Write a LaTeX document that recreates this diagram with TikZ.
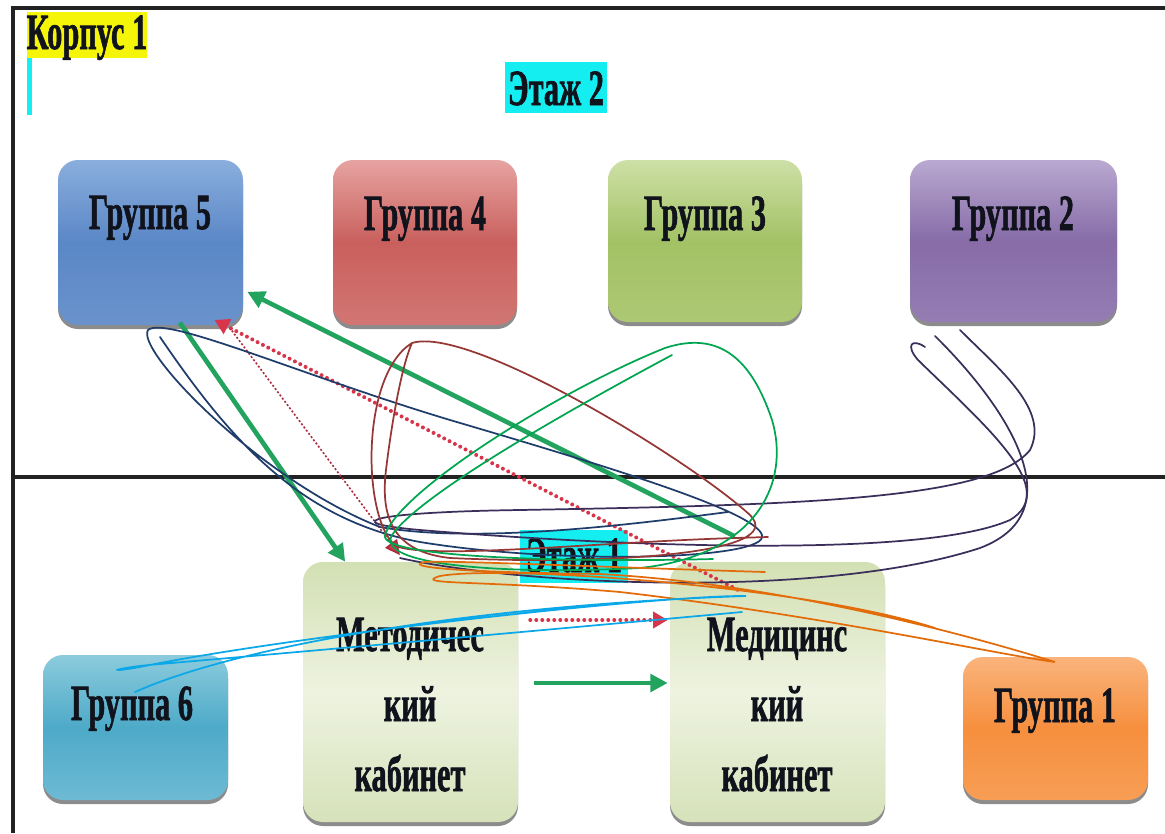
\documentclass[tikz,border=0pt]{standalone}
\usepackage{fontspec}
\setmainfont{Liberation Serif}[BoldFeatures={FakeBold=1.5}]
\usetikzlibrary{fit,shadows,arrows.meta}
\definecolor{frame}{HTML}{222222}
\definecolor{g5t}{HTML}{8AAEDD}\definecolor{g5m}{HTML}{5A87C6}\definecolor{g5b}{HTML}{6A93CC}
\definecolor{g4t}{HTML}{E6A3A1}\definecolor{g4m}{HTML}{C9605D}\definecolor{g4b}{HTML}{D27673}
\definecolor{g3t}{HTML}{CDE0A6}\definecolor{g3m}{HTML}{A3C265}\definecolor{g3b}{HTML}{ADC873}
\definecolor{g2t}{HTML}{B9A9D0}\definecolor{g2m}{HTML}{876CA8}\definecolor{g2b}{HTML}{957DB3}
\definecolor{g6t}{HTML}{8CCBDD}\definecolor{g6m}{HTML}{4DAAC8}\definecolor{g6b}{HTML}{6EBAD4}
\definecolor{g1t}{HTML}{FAB47C}\definecolor{g1m}{HTML}{F68F3E}\definecolor{g1b}{HTML}{F79E55}
\definecolor{kt}{HTML}{D3E0B4}\definecolor{km}{HTML}{EEF3E0}\definecolor{kb}{HTML}{D6E2BA}
\definecolor{arrg}{HTML}{22A35E}
\definecolor{arrr}{HTML}{D8344A}
\definecolor{navyc}{HTML}{1F3D6B}
\definecolor{purpc}{HTML}{3A2E5A}
\definecolor{redc}{HTML}{953735}
\definecolor{greenc}{HTML}{00A550}
\definecolor{orangec}{HTML}{E36C0A}
\definecolor{bluec}{HTML}{0AA8E8}
\definecolor{lblcyan}{HTML}{14EEF0}
\definecolor{lblyellow}{HTML}{F5F50A}
\definecolor{txtc}{HTML}{10121C}
\newcommand\sq[1]{\scalebox{0.6}[1]{#1}}
\begin{document}
\begin{tikzpicture}[x=0.75pt,y=-0.75pt,
  box/.style={rectangle, rounded corners=15pt, inner sep=0pt, draw=none,
    drop shadow={shadow xshift=0pt,shadow yshift=-3pt,fill=black,opacity=0.45}},
  txt/.style={font=\fontsize{38}{44}\selectfont\bfseries, inner sep=0pt, anchor=base, text=txtc},
  garrow/.style={draw=arrg, line width=3.5pt, -{Triangle[length=13pt,width=13pt]}},
  rarrow/.style={draw=arrr, line width=3pt, line cap=round, dash pattern=on 0pt off 4.5pt, -{Triangle[length=11pt,width=12pt]}},
  rthin/.style={draw=arrr!80!black, line width=1.2pt, dash pattern=on 1.5pt off 1.5pt, -{Triangle[length=11pt,width=11pt,fill=arrr]}},
  curve/.style={line width=1.3pt, line cap=round}
]
\useasboundingbox (0,0) rectangle (1165,833);
\fill[white] (0,0) rectangle (1165,833);
% frame
\draw[frame, line width=2.4pt] (1165,8) -- (13,8) -- (13,833);
\draw[frame, line width=2.4pt] (13,477) -- (1165,477);
% labels
\fill[lblyellow] (27,12) rectangle (147,58);
\node[txt] (k1) at (87,49) {\sq{Корпус 1}};
\fill[lblcyan] (27,58) rectangle (32,115);
\fill[lblcyan] (505,62) rectangle (607,113);
\node[txt] (e2) at (556,105) {\sq{Этаж 2}};
% top row boxes
\node[box, top color=g5t, bottom color=g5b, middle color=g5m, fit={(58,160) (243,325)}] (g5) {};
\node[box, top color=g4t, bottom color=g4b, middle color=g4m, fit={(333,160) (517,325)}] (g4) {};
\node[box, top color=g3t, bottom color=g3b, middle color=g3m, fit={(608,160) (802,322)}] (g3) {};
\node[box, top color=g2t, bottom color=g2b, middle color=g2m, fit={(910,160) (1117,322)}] (g2) {};
\node[txt] (t5) at (150,229) {\sq{Группа 5}};
\node[txt] (t4) at (425,230) {\sq{Группа 4}};
\node[txt] (t3) at (705,230) {\sq{Группа 3}};
\node[txt] (t2) at (1013,230) {\sq{Группа 2}};
% bottom row boxes
\node[box, top color=g6t, bottom color=g6b, middle color=g6m, fit={(43,655) (228,800)}] (g6) {};
\node[box, top color=kt, bottom color=kb, middle color=km, fit={(303,562) (518,822)}] (met) {};
\node[box, top color=kt, bottom color=kb, middle color=km, fit={(670,562) (885,822)}] (med) {};
\node[box, top color=g1t, bottom color=g1b, middle color=g1m, fit={(963,657) (1148,800)}] (g1) {};
\node[txt] (t6) at (132,720) {\sq{Группа 6}};
\node[txt] (t1) at (1055,722) {\sq{Группа 1}};
\node[txt] (m1) at (410,651) {\sq{Методичес}};
\node[txt] (m2) at (410,721) {\sq{кий}};
\node[txt] (m3) at (410,791) {\sq{кабинет}};
\node[txt] (d1) at (777,651) {\sq{Медицинс}};
\node[txt] (d2) at (777,721) {\sq{кий}};
\node[txt] (d3) at (777,791) {\sq{кабинет}};
% etazh 1 label
\fill[lblcyan] (520,530) rectangle (628,583);
\node[txt] (e1) at (574,572) {\sq{Этаж 1}};
% arrows
\draw[garrow] ([xshift=-32pt,yshift=19pt]med.north) -- ([xshift=3pt,yshift=-37pt]g5.east);
\draw[garrow] ([xshift=22pt,yshift=2pt]g5.south) -- ([xshift=-49pt,yshift=0pt]met.north);
\draw[rarrow] ([xshift=-30pt,yshift=-21pt]med.north) -- ([xshift=48pt,yshift=4pt]g5.south);
\draw[rthin] ([xshift=61pt,yshift=-4pt]g5.south) -- ([xshift=-8pt,yshift=5pt]met.north);
\draw[rarrow] ([xshift=9pt,yshift=54pt]met.east) -- ([xshift=-1.5pt,yshift=54pt]med.west);
\draw[garrow] ([xshift=12pt,yshift=6.75pt]met.east) -- ([xshift=-1.5pt,yshift=6.75pt]med.west);
% freehand curves
\draw[curve, navyc] (160,337) .. controls (230,440) and (300,520) .. (420,542) .. controls (560,565) and (770,560) .. (762,535) .. controls (755,512) and (620,470) .. (450,420) .. controls (300,375) and (165,315) .. (148,330) .. controls (135,350) and (260,480) .. (380,527) .. controls (480,545) and (650,522) .. (728,512);
\draw[curve, purpc] (925,347) .. controls (912,338) and (905,345) .. (918,360) .. controls (990,430) and (1060,490) .. (1010,520) .. controls (920,560) and (600,545) .. (420,530) .. controls (330,522) and (380,512) .. (520,510) .. controls (800,505) and (990,500) .. (1030,450) .. controls (1050,410) and (1000,370) .. (960,330);
\draw[curve, purpc] (935,336) .. controls (1000,400) and (1080,510) .. (980,548) .. controls (820,600) and (520,585) .. (400,558);
\draw[curve, redc] (768,537) -- (735,538) .. controls (600,542) and (430,560) .. (396,546) .. controls (362,520) and (360,375) .. (412,343) .. controls (470,325) and (690,460) .. (750,515) .. controls (790,555) and (600,565) .. (450,558) .. controls (395,552) and (380,520) .. (386,470) .. controls (392,420) and (402,365) .. (412,343);
\draw[curve, greenc] (672,355) .. controls (560,415) and (420,495) .. (392,535) .. controls (375,565) and (500,575) .. (640,568) .. controls (760,555) and (790,480) .. (772,420) .. controls (752,360) and (720,330) .. (665,348) .. controls (560,390) and (400,490) .. (385,535) .. controls (378,560) and (600,562) .. (713,559);
\draw[curve, orangec] (765,572) .. controls (600,567) and (440,560) .. (425,562) .. controls (405,566) and (440,572) .. (600,574) .. controls (800,585) and (1000,645) .. (1055,662) .. controls (1000,655) and (820,615) .. (620,592) .. controls (480,580) and (410,585) .. (440,576) .. controls (500,565) and (800,585) .. (935,628);
\draw[curve, bluec] (135,692) .. controls (240,645) and (480,605) .. (746,596) .. controls (660,595) and (300,635) .. (150,665) .. controls (100,675) and (110,668) .. (160,664) .. controls (300,652) and (600,625) .. (742,612);
\end{tikzpicture}
\end{document}
